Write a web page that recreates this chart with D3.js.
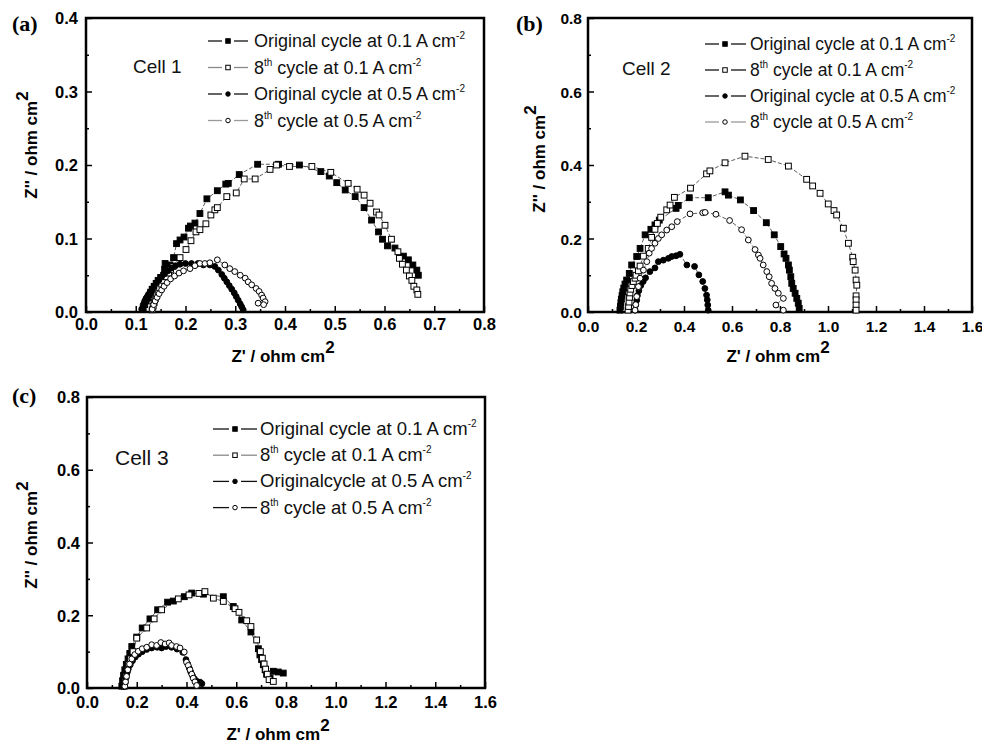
<!DOCTYPE html>
<html><head><meta charset="utf-8">
<script src="https://cdn.jsdelivr.net/npm/d3@7"></script>
<style>body{margin:0;background:#fff}svg{display:block}</style>
</head><body>
<svg id="chart" width="982" height="743"></svg>
<script>
// ---------------- DATA ----------------
const legendA = ["Original cycle at 0.1 A cm^{-2}", "8^{th} cycle at 0.1 A cm^{-2}", "Original cycle at 0.5 A cm^{-2}", "8^{th} cycle at 0.5 A cm^{-2}"];
const legendB = ["Original cycle at 0.1 A cm^{-2}", "8^{th} cycle at 0.1 A cm^{-2}", "Original cycle at 0.5 A cm^{-2}", "8^{th} cycle at 0.5 A cm^{-2}"];
const legendC = ["Original cycle at 0.1 A cm^{-2}", "8^{th} cycle at 0.1 A cm^{-2}", "Originalcycle at 0.5 A cm^{-2}", "8^{th} cycle at 0.5 A cm^{-2}"];
const cellLabels = ["Cell 1", "Cell 2", "Cell 3"];
const panelLabels = ["(a)", "(b)", "(c)"];
const xTitle = "Z' / ohm cm^{2}";
const yTitle = "Z'' / ohm cm^{2}";
const ticksA_x = [0,0.1,0.2,0.3,0.4,0.5,0.6,0.7,0.8];
const ticksA_y = [0,0.1,0.2,0.3,0.4];
const ticksBC_x = [0,0.2,0.4,0.6,0.8,1.0,1.2,1.4,1.6];
const ticksBC_y = [0,0.2,0.4,0.6,0.8];

// Cell 1
const a1 = [[0.115,0.005],[0.118,0.010],[0.121,0.015],[0.124,0.019],[0.127,0.023],[0.130,0.027],[0.133,0.031],[0.137,0.035],[0.141,0.039],[0.145,0.043],[0.150,0.047],[0.156,0.050],[0.158,0.058],[0.159,0.066],[0.169,0.064],[0.176,0.074],[0.182,0.093],[0.189,0.098],[0.197,0.102],[0.206,0.114],[0.210,0.117],[0.219,0.121],[0.229,0.134],[0.243,0.154],[0.264,0.165],[0.281,0.174],[0.286,0.175],[0.308,0.187],[0.345,0.201],[0.387,0.201],[0.429,0.200],[0.472,0.191],[0.489,0.185],[0.504,0.176],[0.521,0.166],[0.541,0.157],[0.559,0.142],[0.574,0.125],[0.588,0.109],[0.596,0.099],[0.606,0.090],[0.621,0.087],[0.638,0.076],[0.648,0.071],[0.657,0.064],[0.665,0.057],[0.668,0.050]];
const a2 = [[0.133,0.003],[0.135,0.008],[0.137,0.013],[0.139,0.018],[0.142,0.023],[0.145,0.028],[0.148,0.033],[0.152,0.038],[0.156,0.043],[0.161,0.048],[0.166,0.053],[0.170,0.058],[0.175,0.062],[0.189,0.074],[0.201,0.085],[0.211,0.097],[0.221,0.109],[0.229,0.112],[0.241,0.120],[0.251,0.132],[0.259,0.139],[0.264,0.142],[0.283,0.157],[0.302,0.162],[0.318,0.181],[0.340,0.181],[0.370,0.194],[0.383,0.200],[0.409,0.198],[0.454,0.198],[0.492,0.190],[0.527,0.175],[0.545,0.167],[0.559,0.159],[0.571,0.148],[0.584,0.136],[0.589,0.132],[0.601,0.118],[0.614,0.099],[0.627,0.082],[0.630,0.073],[0.636,0.065],[0.644,0.057],[0.650,0.049],[0.655,0.043],[0.659,0.035],[0.665,0.030],[0.667,0.024]];
const a3 = [[0.112,0.004],[0.115,0.010],[0.118,0.015],[0.121,0.019],[0.125,0.023],[0.129,0.027],[0.133,0.031],[0.137,0.035],[0.142,0.040],[0.147,0.044],[0.152,0.048],[0.158,0.052],[0.165,0.056],[0.172,0.060],[0.180,0.063],[0.189,0.065],[0.200,0.066],[0.212,0.066],[0.225,0.066],[0.236,0.064],[0.249,0.064],[0.259,0.062],[0.266,0.057],[0.273,0.051],[0.278,0.046],[0.283,0.041],[0.288,0.036],[0.293,0.031],[0.298,0.026],[0.302,0.021],[0.306,0.016],[0.310,0.011],[0.313,0.007],[0.316,0.003]];
const a4 = [[0.133,0.004],[0.136,0.010],[0.139,0.015],[0.143,0.020],[0.147,0.025],[0.152,0.030],[0.157,0.035],[0.163,0.040],[0.170,0.045],[0.178,0.049],[0.187,0.053],[0.196,0.056],[0.209,0.059],[0.219,0.063],[0.229,0.066],[0.239,0.066],[0.249,0.067],[0.264,0.071],[0.279,0.064],[0.289,0.059],[0.299,0.055],[0.310,0.050],[0.320,0.046],[0.326,0.041],[0.333,0.037],[0.342,0.032],[0.348,0.028],[0.353,0.023],[0.356,0.019],[0.360,0.014],[0.357,0.010],[0.346,0.012]];

// Cell 2
const b1 = [[0.133,0.005],[0.135,0.015],[0.137,0.025],[0.139,0.035],[0.142,0.045],[0.145,0.055],[0.149,0.065],[0.154,0.076],[0.161,0.087],[0.172,0.105],[0.182,0.128],[0.203,0.151],[0.217,0.173],[0.238,0.210],[0.262,0.225],[0.279,0.237],[0.297,0.250],[0.367,0.282],[0.376,0.290],[0.422,0.311],[0.501,0.311],[0.571,0.327],[0.585,0.318],[0.635,0.305],[0.690,0.276],[0.743,0.243],[0.776,0.210],[0.803,0.178],[0.817,0.158],[0.825,0.146],[0.835,0.128],[0.839,0.114],[0.845,0.096],[0.849,0.078],[0.855,0.064],[0.863,0.051],[0.870,0.037],[0.876,0.024],[0.880,0.010]];
const b2 = [[0.167,0.005],[0.169,0.015],[0.171,0.027],[0.173,0.040],[0.175,0.052],[0.178,0.062],[0.183,0.072],[0.189,0.083],[0.196,0.092],[0.200,0.100],[0.210,0.112],[0.217,0.125],[0.231,0.152],[0.251,0.173],[0.265,0.203],[0.279,0.225],[0.289,0.241],[0.303,0.258],[0.328,0.278],[0.342,0.291],[0.360,0.312],[0.427,0.337],[0.494,0.376],[0.508,0.384],[0.571,0.406],[0.654,0.424],[0.751,0.415],[0.835,0.397],[0.911,0.361],[0.936,0.343],[0.967,0.323],[1.001,0.294],[1.025,0.276],[1.036,0.264],[1.064,0.228],[1.085,0.187],[1.103,0.149],[1.105,0.137],[1.113,0.114],[1.117,0.087],[1.120,0.073],[1.117,0.044],[1.117,0.033],[1.117,0.019],[1.117,0.005]];
const b3 = [[0.196,0.005],[0.199,0.019],[0.203,0.032],[0.206,0.045],[0.212,0.058],[0.220,0.072],[0.230,0.083],[0.240,0.093],[0.258,0.110],[0.279,0.120],[0.293,0.137],[0.314,0.141],[0.335,0.146],[0.349,0.151],[0.367,0.153],[0.383,0.157],[0.412,0.128],[0.444,0.124],[0.462,0.101],[0.478,0.083],[0.487,0.064],[0.494,0.046],[0.497,0.033],[0.499,0.019],[0.501,0.005]];
const b4 = [[0.196,0.005],[0.199,0.020],[0.203,0.042],[0.210,0.069],[0.217,0.092],[0.231,0.114],[0.245,0.137],[0.255,0.160],[0.265,0.173],[0.279,0.187],[0.293,0.200],[0.307,0.210],[0.328,0.223],[0.349,0.232],[0.372,0.246],[0.425,0.267],[0.478,0.270],[0.488,0.271],[0.533,0.266],[0.590,0.249],[0.640,0.224],[0.668,0.196],[0.696,0.170],[0.710,0.155],[0.717,0.146],[0.730,0.128],[0.745,0.110],[0.755,0.096],[0.765,0.078],[0.779,0.064],[0.793,0.051],[0.814,0.037],[0.783,0.019],[0.814,0.005]];

// Cell 3
const c1 = [[0.140,0.005],[0.143,0.020],[0.147,0.035],[0.152,0.050],[0.158,0.065],[0.165,0.080],[0.172,0.095],[0.180,0.114],[0.200,0.140],[0.222,0.165],[0.253,0.190],[0.284,0.215],[0.324,0.236],[0.347,0.239],[0.391,0.251],[0.421,0.261],[0.468,0.258],[0.548,0.251],[0.588,0.224],[0.622,0.187],[0.659,0.154],[0.689,0.108],[0.695,0.091],[0.702,0.078],[0.709,0.064],[0.716,0.050],[0.722,0.038],[0.736,0.027],[0.749,0.046],[0.769,0.044],[0.789,0.041]];
const c2 = [[0.150,0.005],[0.153,0.020],[0.157,0.035],[0.162,0.050],[0.168,0.065],[0.175,0.080],[0.185,0.100],[0.200,0.137],[0.240,0.165],[0.270,0.190],[0.300,0.215],[0.367,0.245],[0.410,0.256],[0.450,0.260],[0.474,0.265],[0.508,0.247],[0.548,0.238],[0.595,0.218],[0.611,0.208],[0.642,0.185],[0.659,0.169],[0.682,0.132],[0.697,0.100],[0.705,0.082],[0.712,0.066],[0.718,0.052],[0.725,0.038],[0.732,0.023],[0.749,0.018]];
const c3 = [[0.148,0.005],[0.151,0.015],[0.155,0.027],[0.160,0.040],[0.166,0.052],[0.174,0.064],[0.183,0.075],[0.194,0.085],[0.207,0.093],[0.222,0.100],[0.240,0.106],[0.260,0.110],[0.282,0.112],[0.300,0.110],[0.318,0.114],[0.340,0.112],[0.362,0.107],[0.385,0.098],[0.398,0.078],[0.405,0.066],[0.411,0.055],[0.417,0.044],[0.424,0.034],[0.432,0.025],[0.443,0.018],[0.455,0.016],[0.462,0.012]];
const c4 = [[0.152,0.005],[0.155,0.017],[0.159,0.032],[0.164,0.050],[0.171,0.066],[0.180,0.080],[0.192,0.092],[0.206,0.101],[0.222,0.108],[0.240,0.112],[0.260,0.119],[0.280,0.117],[0.297,0.125],[0.314,0.121],[0.330,0.124],[0.340,0.117],[0.360,0.114],[0.374,0.110],[0.391,0.099],[0.400,0.071],[0.407,0.062],[0.414,0.050],[0.421,0.038],[0.427,0.027],[0.434,0.017],[0.441,0.007]];

const markerTypes = ["squareFilled", "squareOpen", "circleFilled", "circleOpen"];

// ---------------- LAYOUT ----------------
const SANS = "'Liberation Sans', Arial, Helvetica, sans-serif";
const SERIF = "'Liberation Serif', 'Times New Roman', serif";

const panels = [
  { label: panelLabels[0], labelPos: [12, 31], cell: cellLabels[0], cellPos: [133, 73], cellSize: 19,
    series: [a1, a2, a3, a4], legend: legendA, legendColors: ["#111", "#888", "#111", "#999"],
    legendPos: { x1: 208, mk: 228, x2: 248, tx: 254, y0: 47, dy: 26.5, size: 18 },
    box: { l: 86, r: 484, t: 18, b: 312 }, xDom: [0, 0.8], yDom: [0, 0.4],
    xt: ticksA_x, yt: ticksA_y, xMinStep: 0.05, yMinStep: 0.05,
    xLabY: 330, yLabX: 78, xTitlePos: [283, 362], yTitlePos: [37, 145], tickFont: 16.5 },
  { label: panelLabels[1], labelPos: [516, 31], cell: cellLabels[1], cellPos: [622, 75], cellSize: 19,
    series: [b1, b2, b3, b4], legend: legendB, legendColors: ["#111", "#111", "#111", "#999"],
    legendPos: { x1: 705, mk: 725, x2: 746, tx: 750, y0: 50, dy: 26, size: 17.5 },
    box: { l: 588, r: 972, t: 18, b: 312 }, xDom: [0, 1.6], yDom: [0, 0.8],
    xt: ticksBC_x, yt: ticksBC_y, xMinStep: 0.1, yMinStep: 0.1,
    xLabY: 332, yLabX: 582, xTitlePos: [778, 362], yTitlePos: [545, 159], tickFont: 15.5 },
  { label: panelLabels[2], labelPos: [12, 403], cell: cellLabels[2], cellPos: [115, 465], cellSize: 21,
    series: [c1, c2, c3, c4], legend: legendC, legendColors: ["#111", "#888", "#111", "#111"],
    legendPos: { x1: 213, mk: 235, x2: 257, tx: 260, y0: 435, dy: 26.2, size: 18.5 },
    box: { l: 87, r: 485, t: 397, b: 688 }, xDom: [0, 1.6], yDom: [0, 0.8],
    xt: ticksBC_x, yt: ticksBC_y, xMinStep: 0.1, yMinStep: 0.1,
    xLabY: 708, yLabX: 80, xTitlePos: [278, 740], yTitlePos: [37, 535], tickFont: 16.5 }
];

const svg = d3.select("#chart");
svg.append("rect").attr("width", 982).attr("height", 743).attr("fill", "#fff");

function richText(sel, str, baseSize, supSize, shift) {
  const parts = str.split(/(\^\{[^}]*\})/).filter(s => s.length);
  let up = false;
  parts.forEach(p => {
    if (p.startsWith("^{")) {
      sel.append("tspan").attr("font-size", supSize).attr("dy", -shift).text(p.slice(2, -1));
      up = true;
    } else {
      const t = sel.append("tspan").attr("font-size", baseSize).text(p);
      if (up) { t.attr("dy", shift); up = false; }
    }
  });
}

function drawMarker(g, type, cx, cy, s) {
  if (type.startsWith("square")) {
    g.append("rect").attr("x", cx - s / 2).attr("y", cy - s / 2).attr("width", s).attr("height", s)
      .attr("fill", type.endsWith("Filled") ? "#000" : "#fff").attr("stroke", "#000").attr("stroke-width", 1);
  } else {
    g.append("circle").attr("cx", cx).attr("cy", cy).attr("r", s / 2)
      .attr("fill", type.endsWith("Filled") ? "#000" : "#fff").attr("stroke", "#000").attr("stroke-width", 1);
  }
}

const fmt = d3.format(".1f");

panels.forEach(P => {
  const x = d3.scaleLinear().domain(P.xDom).range([P.box.l, P.box.r]);
  const y = d3.scaleLinear().domain(P.yDom).range([P.box.b, P.box.t]);
  const g = svg.append("g");

  const xMinor = d3.range(P.xDom[0], P.xDom[1] + 1e-9, P.xMinStep).filter(v => !P.xt.some(t => Math.abs(t - v) < 1e-6));
  const yMinor = d3.range(P.yDom[0], P.yDom[1] + 1e-9, P.yMinStep).filter(v => !P.yt.some(t => Math.abs(t - v) < 1e-6));

  const xAxMinor = g.append("g").attr("transform", `translate(0,${P.box.b})`)
    .call(d3.axisBottom(x).tickValues(xMinor).tickSize(-3).tickFormat(""));
  const yAxMinor = g.append("g").attr("transform", `translate(${P.box.l},0)`)
    .call(d3.axisLeft(y).tickValues(yMinor).tickSize(-3).tickFormat(""));
  const xAx = g.append("g").attr("transform", `translate(0,${P.box.b})`)
    .call(d3.axisBottom(x).tickValues(P.xt).tickSize(-6).tickFormat(fmt));
  const yAx = g.append("g").attr("transform", `translate(${P.box.l},0)`)
    .call(d3.axisLeft(y).tickValues(P.yt).tickSize(-6).tickFormat(fmt));
  [xAxMinor, yAxMinor, xAx, yAx].forEach(a => {
    a.select(".domain").remove();
    a.selectAll("line").attr("stroke", "#000").attr("stroke-width", 1.5);
  });
  xAx.selectAll("text").attr("y", P.xLabY - P.box.b).attr("dy", null)
    .attr("font-family", SANS).attr("font-weight", "bold").attr("font-size", P.tickFont).attr("fill", "#000");
  yAx.selectAll("text").attr("x", P.yLabX - P.box.l).attr("dy", "0.36em")
    .attr("font-family", SANS).attr("font-weight", "bold").attr("font-size", P.tickFont).attr("fill", "#000");

  g.append("rect").attr("x", P.box.l).attr("y", P.box.t)
    .attr("width", P.box.r - P.box.l).attr("height", P.box.b - P.box.t)
    .attr("fill", "none").attr("stroke", "#000").attr("stroke-width", 2.5);

  const line = d3.line().x(d => x(d[0])).y(d => y(d[1]));
  P.series.forEach((s, i) => {
    g.append("path").datum(s).attr("d", line).attr("fill", "none")
      .attr("stroke", "#333").attr("stroke-width", 0.8).attr("stroke-dasharray", "4,2");
  });
  P.series.forEach((s, i) => {
    const mg = g.append("g");
    s.forEach(d => drawMarker(mg, markerTypes[i], x(d[0]), y(d[1]), 5.8));
  });

  const L = P.legendPos;
  P.legend.forEach((txt, i) => {
    const by = L.y0 + i * L.dy;
    const cy = by - 6;
    g.append("line").attr("x1", L.x1).attr("x2", L.mk - 6).attr("y1", cy).attr("y2", cy)
      .attr("stroke", P.legendColors[i]).attr("stroke-width", 1.3);
    g.append("line").attr("x1", L.mk + 6).attr("x2", L.x2).attr("y1", cy).attr("y2", cy)
      .attr("stroke", P.legendColors[i]).attr("stroke-width", 1.3);
    drawMarker(g, markerTypes[i], L.mk, cy, 4.5);
    const t = g.append("text").attr("x", L.tx).attr("y", by)
      .attr("font-family", SANS).attr("fill", "#111");
    richText(t, txt, L.size, 10, 8);
  });

  g.append("text").attr("x", P.cellPos[0]).attr("y", P.cellPos[1])
    .attr("font-family", SANS).attr("font-size", P.cellSize).attr("fill", "#111").text(P.cell);

  g.append("text").attr("x", P.labelPos[0]).attr("y", P.labelPos[1])
    .attr("font-family", SERIF).attr("font-weight", "bold").attr("font-size", 22).attr("fill", "#000").text(P.label);

  const xt = g.append("text").attr("x", P.xTitlePos[0]).attr("y", P.xTitlePos[1])
    .attr("text-anchor", "middle").attr("font-family", SANS).attr("font-weight", "bold").attr("fill", "#000");
  richText(xt, xTitle, 17, 17, 9);
  const yt = g.append("text").attr("transform", `translate(${P.yTitlePos[0]},${P.yTitlePos[1]}) rotate(-90)`)
    .attr("text-anchor", "middle").attr("font-family", SANS).attr("font-weight", "bold").attr("fill", "#000");
  richText(yt, yTitle, 17, 17, 9);
});
</script>
</body></html>
